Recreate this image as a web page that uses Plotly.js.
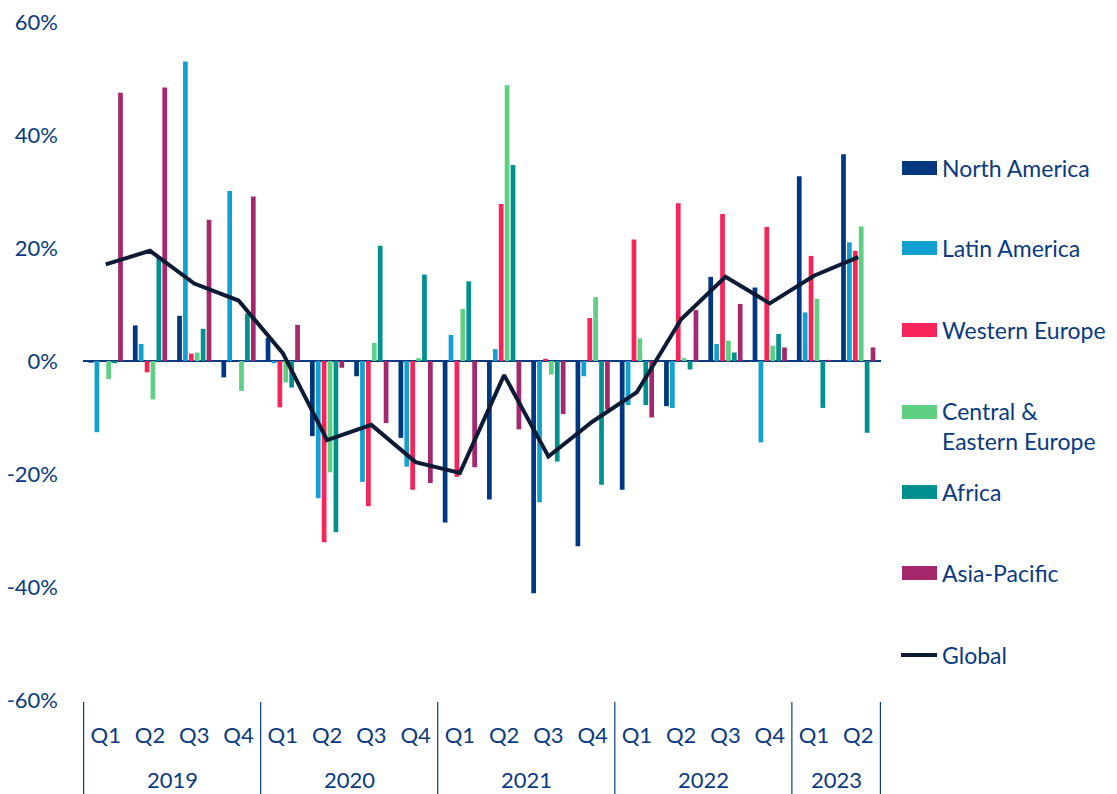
<!DOCTYPE html>
<html>
<head>
<meta charset="utf-8">
<script src="https://cdn.plot.ly/plotly-3.0.1.min.js"></script>
<style>html,body{margin:0;padding:0;background:#fff;}#chart{width:1117px;height:794px;}</style>
</head>
<body>
<div id="chart"></div>
<script>
const years = ["2019","2019","2019","2019","2020","2020","2020","2020","2021","2021","2021","2021","2022","2022","2022","2022","2023","2023"];
const quarters = ["Q1","Q2","Q3","Q4","Q1","Q2","Q3","Q4","Q1","Q2","Q3","Q4","Q1","Q2","Q3","Q4","Q1","Q2"];
const yearLabels = ["2019","2020","2021","2022","2023"];

const northAmerica = [-0.3, 6.3, 8.0, -2.9, 4.1, -13.3, -2.7, -13.6, -28.6, -24.5, -41.1, -32.8, -22.8, -8.0, 14.9, 13.0, 32.7, 36.6];
const latinAmerica = [-12.6, 3.0, 53.0, 30.1, -0.4, -24.3, -21.4, -18.7, 4.6, 2.1, -25.0, -2.7, -7.8, -8.3, 3.0, -14.4, 8.6, 21.0];
const westernEurope = [0, -2.0, 1.3, 0, -8.2, -32.1, -25.7, -22.8, -20.5, 27.8, 0.4, 7.6, 21.5, 27.9, 26.0, 23.7, 18.6, 19.5];
const centralEasternEurope = [-3.2, -6.8, 1.5, -5.3, -3.8, -19.7, 3.2, 0.5, 9.2, 48.8, -2.4, 11.3, 4.0, 0.5, 3.6, 2.7, 11.0, 23.8];
const africa = [-0.4, 18.5, 5.7, 8.4, -4.7, -30.3, 20.4, 15.3, 14.1, 34.7, -17.8, -21.9, -7.8, -1.5, 1.5, 4.8, -8.3, -12.7];
const asiaPacific = [47.5, 48.4, 25.0, 29.1, 6.4, -1.2, -11.0, -21.6, -18.8, -12.1, -9.4, -8.6, -10.0, 9.0, 10.1, 2.4, 0.2, 2.4];
const globalLine = [17.1, 19.5, 13.7, 10.7, 1.4, -14.0, -11.3, -17.9, -19.8, -2.5, -16.9, -10.7, -5.5, 7.4, 14.9, 10.2, 15.1, 18.4];

const seriesNames = ["North America","Latin America","Western Europe","Central &<br>Eastern Europe","Africa","Asia-Pacific"];
const seriesValues = [northAmerica, latinAmerica, westernEurope, centralEasternEurope, africa, asiaPacific];
const seriesColors = ["#003781","#13a0d3","#f62459","#5fcf85","#00908d","#a4286b"];
const globalName = "Global";
const globalColor = "#0d1b35";

const navy = "#0b3a7e";
const fontFam = "Lato, 'Open Sans', sans-serif";

// category keys built from the label arrays
const cats = years.map((y, i) => y + " " + quarters[i]);

const traces = seriesNames.map((n, i) => ({
  type: "bar",
  name: n,
  x: cats,
  y: seriesValues[i],
  marker: {color: seriesColors[i], line: {width: 0}},
  showlegend: false
}));
traces.push({
  type: "scatter",
  mode: "lines",
  name: globalName,
  x: cats,
  y: globalLine,
  line: {color: globalColor, width: 4},
  showlegend: false
});

// layout geometry (pixels -> paper)
const W = 1117, H = 794;
const mL = 83, mR = 236, mT = 22, mB = 94;
const plotW = W - mL - mR, plotH = H - mT - mB;
const px = v => (v - mL) / plotW;
const py = v => (H - mB - v) / plotH;

// group boundaries (category index) for dividers, computed from the years array
const bounds = [-0.5];
for (let i = 1; i < years.length; i++) if (years[i] !== years[i - 1]) bounds.push(i - 0.5);
bounds.push(years.length - 0.5);

const shapes = bounds.map(b => ({
  type: "line", xref: "x", yref: "paper",
  x0: b, x1: b, y0: py(702), y1: py(796),
  line: {color: navy, width: 1.2}
}));

const annotations = [];
for (let k = 0; k < bounds.length - 1; k++) {
  annotations.push({
    xref: "x", yref: "paper",
    x: (bounds[k] + bounds[k + 1]) / 2, y: py(780),
    text: yearLabels[k], showarrow: false,
    xanchor: "center", yanchor: "middle",
    font: {size: 22, color: navy, family: fontFam}
  });
}

// custom legend
const legendY = [168, 248, 330, 412, 492, 573, 655];
seriesNames.forEach((n, i) => {
  const yc = legendY[i];
  shapes.push({
    type: "rect", xref: "paper", yref: "paper",
    x0: px(902), x1: px(937), y0: py(yc + 7), y1: py(yc - 7),
    fillcolor: seriesColors[i], line: {width: 0}
  });
  const twoLine = n.indexOf("<br>") >= 0;
  annotations.push({
    xref: "paper", yref: "paper",
    x: px(940), y: twoLine ? py(yc - 17) : py(yc),
    text: n, showarrow: false, align: "left",
    xanchor: "left", yanchor: twoLine ? "top" : "middle",
    font: {size: 23, color: navy, family: fontFam}
  });
});
shapes.push({
  type: "line", xref: "paper", yref: "paper",
  x0: px(901), x1: px(937), y0: py(655), y1: py(655),
  line: {color: globalColor, width: 4}
});
annotations.push({
  xref: "paper", yref: "paper",
  x: px(940), y: py(655), text: globalName, showarrow: false,
  xanchor: "left", yanchor: "middle",
  font: {size: 23, color: navy, family: fontFam}
});

const layout = {
  width: W,
  height: H,
  margin: {l: mL, r: mR, t: mT, b: mB},
  paper_bgcolor: "#ffffff",
  plot_bgcolor: "#ffffff",
  font: {family: fontFam, color: navy, size: 22},
  barmode: "group",
  bargap: 0.2,
  bargroupgap: 0.2,
  showlegend: false,
  xaxis: {
    type: "category",
    tickvals: cats,
    ticktext: quarters,
    showgrid: false,
    showline: false,
    zeroline: false,
    ticks: "",
    ticklabelstandoff: 20,
    tickfont: {size: 22, color: navy, family: fontFam}
  },
  yaxis: {
    range: [-60, 60],
    tickvals: [-60, -40, -20, 0, 20, 40, 60],
    ticktext: ["-60%","-40%","-20%","0%","20%","40%","60%"],
    showgrid: false,
    showline: false,
    zeroline: true,
    zerolinecolor: navy,
    zerolinewidth: 2,
    ticks: "",
    ticklabelstandoff: 24,
    tickfont: {size: 22, color: navy, family: fontFam}
  },
  shapes: shapes,
  annotations: annotations
};

Plotly.newPlot("chart", traces, layout, {displayModeBar: false, staticPlot: true});
</script>
</body>
</html>
